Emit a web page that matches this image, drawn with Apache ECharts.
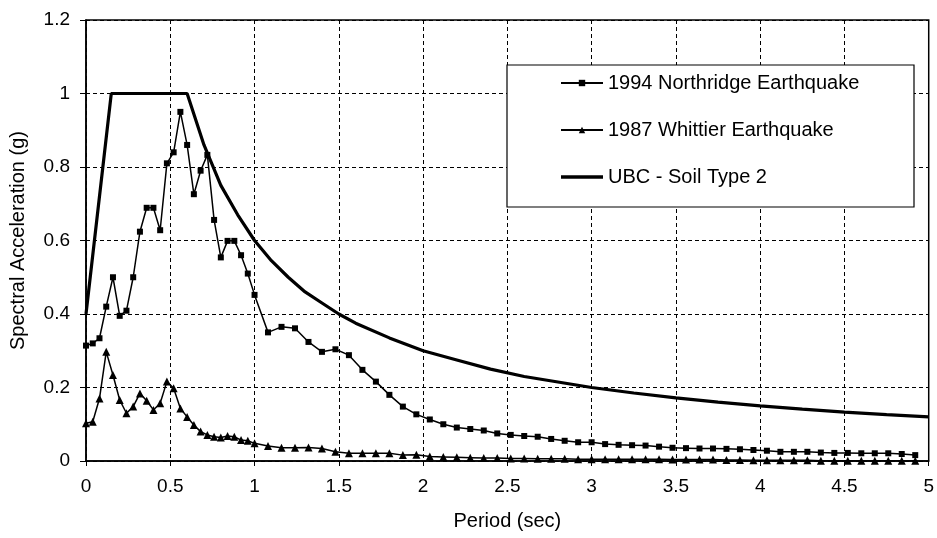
<!DOCTYPE html>
<html lang="en">
<head>
    <meta charset="UTF-8">
    <title>Spectral Acceleration</title>
    <style>
        * { margin: 0; padding: 0; }
        body { background: #fff; }
        #chart-container { width: 937px; height: 538px; }
    </style>
</head>
<body>
    <div id="chart-container"></div>
    <script src="https://cdn.jsdelivr.net/npm/echarts@6/dist/echarts.min.js"></script>
    <script>
        // periods (sec) for the two recorded spectra
        var periods = [
            0, 0.04, 0.08, 0.12, 0.16, 0.20, 0.24, 0.28, 0.32, 0.36, 0.40, 0.44, 0.48,
            0.52, 0.56, 0.60, 0.64, 0.68, 0.72, 0.76, 0.80, 0.84, 0.88, 0.92, 0.96, 1.00,
            1.08, 1.16, 1.24, 1.32, 1.40, 1.48, 1.56, 1.64, 1.72, 1.80, 1.88, 1.96, 2.04,
            2.12, 2.20, 2.28, 2.36, 2.44, 2.52, 2.60, 2.68, 2.76, 2.84, 2.92, 3.00, 3.08,
            3.16, 3.24, 3.32, 3.40, 3.48, 3.56, 3.64, 3.72, 3.80, 3.88, 3.96, 4.04, 4.12,
            4.20, 4.28, 4.36, 4.44, 4.52, 4.60, 4.68, 4.76, 4.84, 4.92
        ];
        var northridge = [
            0.314, 0.32, 0.334, 0.42, 0.50, 0.395, 0.409, 0.50, 0.624, 0.689, 0.689, 0.628, 0.81,
            0.84, 0.95, 0.86, 0.726, 0.79, 0.833, 0.656, 0.554, 0.599, 0.599, 0.56, 0.51, 0.452,
            0.35, 0.365, 0.361, 0.324, 0.297, 0.304, 0.288, 0.248, 0.216, 0.18, 0.148, 0.127, 0.113,
            0.10, 0.091, 0.087, 0.083, 0.075, 0.071, 0.068, 0.066, 0.06, 0.055, 0.051, 0.051, 0.046,
            0.044, 0.043, 0.042, 0.039, 0.036, 0.035, 0.034, 0.034, 0.033, 0.032, 0.03, 0.028, 0.025,
            0.025, 0.025, 0.023, 0.022, 0.022, 0.021, 0.021, 0.021, 0.019, 0.016
        ];
        var whittier = [
            0.103, 0.107, 0.17, 0.297, 0.234, 0.166, 0.13, 0.148, 0.184, 0.164, 0.139, 0.157, 0.216,
            0.198, 0.143, 0.12, 0.098, 0.08, 0.071, 0.066, 0.064, 0.068, 0.066, 0.057, 0.055, 0.048,
            0.041, 0.036, 0.036, 0.037, 0.034, 0.025, 0.021, 0.021, 0.021, 0.021, 0.016, 0.017, 0.012,
            0.011, 0.010, 0.009, 0.008, 0.008, 0.007, 0.007, 0.006, 0.006, 0.006, 0.005, 0.005, 0.005,
            0.005, 0.005, 0.005, 0.005, 0.004, 0.004, 0.004, 0.004, 0.003, 0.003, 0.002, 0.002, 0.002,
            0.002, 0.002, 0.001, 0.001, 0.001, 0.001, 0.001, 0.001, 0.001, 0.001
        ];
        // UBC design spectrum, soil type 2
        var ubcPeriods = [0, 0.15, 0.6, 0.7, 0.8, 0.9, 1.0, 1.1, 1.2, 1.3, 1.4, 1.5, 1.6, 1.8, 2.0,
            2.2, 2.4, 2.6, 2.8, 3.0, 3.25, 3.5, 3.75, 4.0, 4.25, 4.5, 4.75, 5.0];
        var ubcAccel = [0.40, 1.0, 1.0, 0.86, 0.75, 0.67, 0.60, 0.545, 0.50, 0.46, 0.43, 0.40, 0.375,
            0.335, 0.30, 0.275, 0.25, 0.23, 0.215, 0.20, 0.185, 0.172, 0.16, 0.15, 0.141, 0.133, 0.126, 0.12];
        var seriesNames = ['1994 Northridge Earthquake', '1987 Whittier Earthquake', 'UBC - Soil Type 2'];
        var xTicks = { min: 0, max: 5, interval: 0.5 };
        var yTicks = { min: 0, max: 1.2, interval: 0.2 };

        function pairs(xs, ys) {
            return xs.map(function (x, i) { return [x, ys[i]]; });
        }

        var font = '"Liberation Sans", Arial, sans-serif';
        var dash = { color: '#000', width: 1, type: [4, 3] };

        var myChart = echarts.init(document.getElementById('chart-container'), null, { renderer: 'canvas' });

        var option = {
            animation: false,
            backgroundColor: '#fff',
            textStyle: { fontFamily: font, color: '#000' },
            grid: {
                left: 86, right: 7, top: 20, bottom: 77,
                show: true, borderColor: '#000', borderWidth: 1.5
            },
            graphic: [{
                type: 'rect', z: 3,
                shape: { x: 507, y: 65, width: 407, height: 142 },
                style: { fill: '#fff', stroke: '#000', lineWidth: 1.2 }
            }],
            legend: {
                orient: 'vertical',
                left: 560, top: 73,
                padding: 0,
                itemWidth: 42, itemHeight: 8, itemGap: 27,
                z: 4,
                textStyle: { fontSize: 20, color: '#000', fontFamily: font },
                data: [
                    { name: seriesNames[0] },
                    { name: seriesNames[1] },
                    { name: seriesNames[2], icon: 'path://M0,0 L42,0 L42,3.5 L0,3.5 Z' }
                ]
            },
            xAxis: {
                type: 'value',
                min: xTicks.min, max: xTicks.max, interval: xTicks.interval,
                name: 'Period (sec)',
                nameLocation: 'middle', nameGap: 50,
                nameTextStyle: { fontSize: 20, color: '#000' },
                axisLine: { lineStyle: { color: '#000', width: 1.5 } },
                axisTick: { show: true, length: 5, lineStyle: { color: '#000' } },
                axisLabel: { fontSize: 19, color: '#000', margin: 16 },
                splitLine: { show: true, lineStyle: dash }
            },
            yAxis: {
                type: 'value',
                min: yTicks.min, max: yTicks.max, interval: yTicks.interval,
                name: 'Spectral Acceleration (g)',
                nameLocation: 'middle', nameGap: 58,
                nameTextStyle: { fontSize: 20, color: '#000' },
                axisLine: { show: true, lineStyle: { color: '#000', width: 1.5 } },
                axisTick: { show: true, length: 6, lineStyle: { color: '#000' } },
                axisLabel: { fontSize: 19, color: '#000', margin: 16 },
                splitLine: { show: true, lineStyle: dash }
            },
            series: [
                {
                    name: seriesNames[0],
                    type: 'line',
                    data: pairs(periods, northridge),
                    symbol: 'rect', symbolSize: 6,
                    color: '#000',
                    lineStyle: { color: '#000', width: 1.5 },
                    itemStyle: { color: '#000' }
                },
                {
                    name: seriesNames[1],
                    type: 'line',
                    data: pairs(periods, whittier),
                    symbol: 'triangle', symbolSize: 8,
                    color: '#000',
                    lineStyle: { color: '#000', width: 1.5 },
                    itemStyle: { color: '#000' }
                },
                {
                    name: seriesNames[2],
                    type: 'line',
                    data: pairs(ubcPeriods, ubcAccel),
                    symbol: 'none',
                    color: '#000',
                    lineStyle: { color: '#000', width: 3.2 },
                    itemStyle: { color: '#000' }
                }
            ]
        };

        myChart.setOption(option);
        window.addEventListener('resize', myChart.resize);
    </script>
</body>
</html>
